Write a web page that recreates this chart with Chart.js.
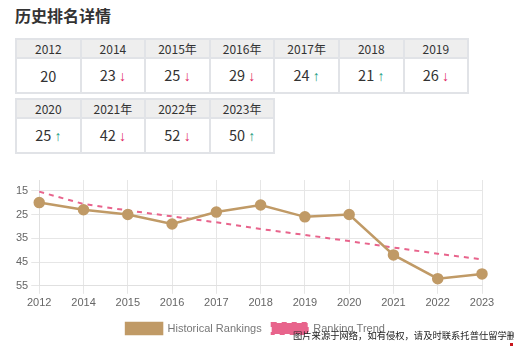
<!DOCTYPE html>
<html>
<head>
<meta charset="utf-8">
<script src="https://cdn.jsdelivr.net/npm/chart.js@4.4.1/dist/chart.umd.min.js"></script>
<style>
  html, body { margin: 0; padding: 0; background: #fff; }
  body { width: 514px; height: 346px; position: relative; overflow: hidden;
         font-family: "Noto Sans CJK SC", "Noto Sans", sans-serif; color: #333; }
  h3 { position: absolute; left: 15px; top: 4px; margin: 0; font-size: 16px; font-weight: bold; line-height: 22px; color: #333; }
  table.rank { position: absolute; left: 15px; border-collapse: collapse; table-layout: fixed; }
  table.rank td, table.rank th { border: 2px solid #e1e3e7; text-align: center; padding: 0; width: 62.6px; }
  table.rank th { background: #eeeeee; font-weight: normal; font-size: 12px; height: 17px; line-height: 17px; color: #333; }
  table.rank td { font-size: 14.5px; height: 31px; line-height: 31px; color: #333; }
  .up, .down { font-family: "Liberation Sans", sans-serif; font-size: 14px; }
  .up { color: #1a9a7e; }
  .down { color: #e0245e; }
  #row1 { top: 38px; }
  #row2 { top: 98px; }
  #chartBox { position: absolute; left: 0; top: 170px; width: 514px; height: 176px; }
  .mark { position: absolute; left: 293px; top: 328px; font-size: 9.3px; color: #222; white-space: nowrap; }
  .red { position: absolute; left: 510px; top: 343px; width: 3px; height: 3px; background: #c8161d; }
</style>
</head>
<body>
<h3>历史排名详情</h3>
<table class="rank" id="row1"><tr></tr><tr></tr></table>
<table class="rank" id="row2"><tr></tr><tr></tr></table>
<div id="chartBox"><canvas id="rankChart"></canvas></div>
<div class="mark">图片来源于网络，如有侵权，请及时联系托普仕留学删除</div>
<div class="red"></div>
<script>
// year headers as shown in the table
const tableYears = ['2012', '2014', '2015年', '2016年', '2017年', '2018', '2019', '2020', '2021年', '2022年', '2023年'];
// chart x labels
const years = ['2012', '2014', '2015', '2016', '2017', '2018', '2019', '2020', '2021', '2022', '2023'];
// rank per year
const ranks = [20, 23, 25, 29, 24, 21, 26, 25, 42, 52, 50];
// trend line values per year
const trend = [15.4, 20.6, 23.3, 25.8, 28.3, 31.1, 33.6, 36.2, 38.9, 41.5, 43.9];
const yTicks = [15, 25, 35, 45, 55];

const brown = '#c09a66';
const pink = '#e8648c';

// fill the two tables: 7 years on first row, 4 on second
function fillTable(id, from, to) {
  const rows = document.querySelectorAll('#' + id + ' tr');
  for (let i = from; i < to; i++) {
    const th = document.createElement('th');
    th.textContent = tableYears[i];
    rows[0].appendChild(th);
    const td = document.createElement('td');
    let arrow = '';
    if (i > 0) {
      arrow = ranks[i] > ranks[i - 1] ? ' <span class="down">↓</span>' : ' <span class="up">↑</span>';
    }
    td.innerHTML = ranks[i] + arrow;
    rows[1].appendChild(td);
  }
}
fillTable('row1', 0, 7);
fillTable('row2', 7, 11);

// nudge the legend a little to the right of the default centre
const legendShift = {
  id: 'legendShift',
  afterLayout(chart) {
    chart.legend.left += 8;
    chart.legend.right += 8;
  }
};

const ctx = document.getElementById('rankChart');
new Chart(ctx, {
  type: 'line',
  data: {
    labels: years,
    datasets: [{
      label: 'Historical Rankings',
      data: ranks,
      borderColor: brown,
      backgroundColor: brown,
      borderWidth: 2.5,
      pointRadius: 4.5,
      pointBackgroundColor: brown,
      pointBorderColor: brown,
      tension: 0
    }, {
      label: 'Ranking Trend',
      data: trend,
      borderColor: pink,
      backgroundColor: pink,
      borderWidth: 2,
      borderDash: [5, 5],
      pointRadius: 0,
      tension: 0
    }]
  },
  plugins: [legendShift],
  options: {
    responsive: true,
    maintainAspectRatio: false,
    animation: false,
    layout: { padding: { left: 13, right: 32, top: 10, bottom: 2 } },
    plugins: {
      tooltip: { enabled: false },
      legend: {
        position: 'bottom',
        labels: {
          boxWidth: 36,
          boxHeight: 11,
          color: '#777',
          font: { family: 'Liberation Sans', size: 11 }
        }
      }
    },
    scales: {
      x: {
        offset: false,
        grid: { color: '#e6e6e6' },
        border: { color: '#e0e0e0' },
        ticks: { color: '#666', font: { family: 'Liberation Sans', size: 11 }, maxRotation: 0 }
      },
      y: {
        reverse: true,
        min: 10.5,
        max: 55,
        afterBuildTicks: (axis) => { axis.ticks = yTicks.map(v => ({ value: v })); },
        grid: { color: '#e6e6e6' },
        border: { color: '#e0e0e0' },
        ticks: { color: '#666', font: { family: 'Liberation Sans', size: 11 } }
      }
    }
  }
});
</script>
</body>
</html>
